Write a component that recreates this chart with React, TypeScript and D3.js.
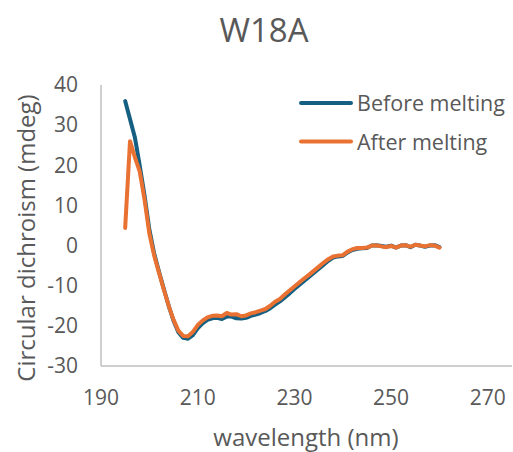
import React from "react";
import * as d3 from "d3";

const wavelengths: number[] = d3.range(195, 261);

const beforeMelting: number[] = [
  36, 31.5, 27, 20, 12.5, 4, -2, -6.5, -10.8, -15,
  -18.7, -21.6, -23, -23.2, -22.3, -20.6, -19.4, -18.5, -18.1, -18,
  -18.3, -17.7, -17.7, -18.1, -18.2, -18, -17.5, -17.2, -16.8, -16.3,
  -15.6, -14.7, -13.9, -12.9, -11.9, -10.8, -9.8, -8.8, -7.8, -6.8,
  -5.8, -4.8, -3.8, -3, -2.7, -2.6, -1.7, -1.1, -0.8, -0.7,
  -0.6, 0, 0.1, -0.1, -0.3, 0, -0.5, 0, 0.1, -0.4,
  0.2, 0, -0.3, 0, 0.1, -0.4,
];

const afterMelting: number[] = [
  4.4, 26, 22, 18.5, 11.5, 3, -2.5, -6.8, -11, -15,
  -18.5, -21.2, -22.5, -22.6, -21.5, -19.8, -18.7, -17.9, -17.5, -17.4,
  -17.6, -16.8, -17.2, -17.1, -17.6, -17.4, -16.9, -16.6, -16.2, -15.8,
  -15, -14, -13.3, -12.2, -11.2, -10.2, -9.2, -8.2, -7.3, -6.3,
  -5.3, -4.3, -3.4, -2.7, -2.5, -2.4, -1.5, -0.9, -0.6, -0.6,
  -0.5, 0, 0, -0.2, -0.4, -0.1, -0.5, 0, 0.1, -0.3,
  0.2, 0, -0.2, 0.1, 0, -0.5,
];

const seriesNames: string[] = ["Before melting", "After melting"];
const seriesColors: string[] = ["#156082", "#E97132"];
const xTicks: number[] = [190, 210, 230, 250, 270];
const yTicks: number[] = [40, 30, 20, 10, 0, -10, -20, -30];

const FONT = "'Open Sans', sans-serif";
const TEXT = "#595959";

export default function App() {
  const W = 513;
  const H = 452;
  const x = d3.scaleLinear().domain([190, 275]).range([101, 512]);
  const y = d3.scaleLinear().domain([-30, 40]).range([366, 85]);

  const line = d3
    .line<[number, number]>()
    .x((d) => x(d[0]))
    .y((d) => y(d[1]));

  const series = [beforeMelting, afterMelting].map((vals) =>
    wavelengths.map((w, i) => [w, vals[i]] as [number, number])
  );

  return (
    <svg
      width={W}
      height={H}
      style={{ position: "absolute", left: 0, top: 0, background: "#fff" }}
    >
      <rect x={0} y={0} width={W} height={H} fill="#fff" />
      <text
        x={264}
        y={42}
        textAnchor="middle"
        fontFamily={FONT}
        fontSize={33}
        fill={TEXT}
      >
        W18A
      </text>
      {/* axes */}
      <line x1={x(190)} x2={x(190)} y1={y(40)} y2={y(-30)} stroke="#BFBFBF" strokeWidth={1.5} />
      <line x1={x(190)} x2={x(275)} y1={y(-30)} y2={y(-30)} stroke="#BFBFBF" strokeWidth={1.5} />
      {yTicks.map((t) => (
        <text
          key={"y" + t}
          x={78}
          y={y(t)}
          dy="0.35em"
          textAnchor="end"
          fontFamily={FONT}
          fontSize={21}
          fill={TEXT}
        >
          {t}
        </text>
      ))}
      {xTicks.map((t) => (
        <text
          key={"x" + t}
          x={x(t)}
          y={405}
          textAnchor="middle"
          fontFamily={FONT}
          fontSize={21}
          fill={TEXT}
        >
          {t}
        </text>
      ))}
      <text
        x={306}
        y={446}
        textAnchor="middle"
        fontFamily={FONT}
        fontSize={24}
        fill={TEXT}
      >
        wavelength (nm)
      </text>
      <text
        transform={`translate(35,238) rotate(-90)`}
        textAnchor="middle"
        fontFamily={FONT}
        fontSize={24}
        fill={TEXT}
      >
        Circular dichroism (mdeg)
      </text>
      {series.map((s, i) => (
        <path
          key={"s" + i}
          d={line(s) || ""}
          fill="none"
          stroke={seriesColors[i]}
          strokeWidth={4}
          strokeLinejoin="round"
          strokeLinecap="round"
        />
      ))}
      {seriesNames.map((n, i) => (
        <g key={"l" + i}>
          <line
            x1={301}
            x2={351}
            y1={103 + i * 38.5}
            y2={103 + i * 38.5}
            stroke={seriesColors[i]}
            strokeWidth={4}
            strokeLinecap="round"
          />
          <text
            x={357}
            y={111 + i * 38.5}
            fontFamily={FONT}
            fontSize={21.5}
            fill={TEXT}
          >
            {n}
          </text>
        </g>
      ))}
    </svg>
  );
}
